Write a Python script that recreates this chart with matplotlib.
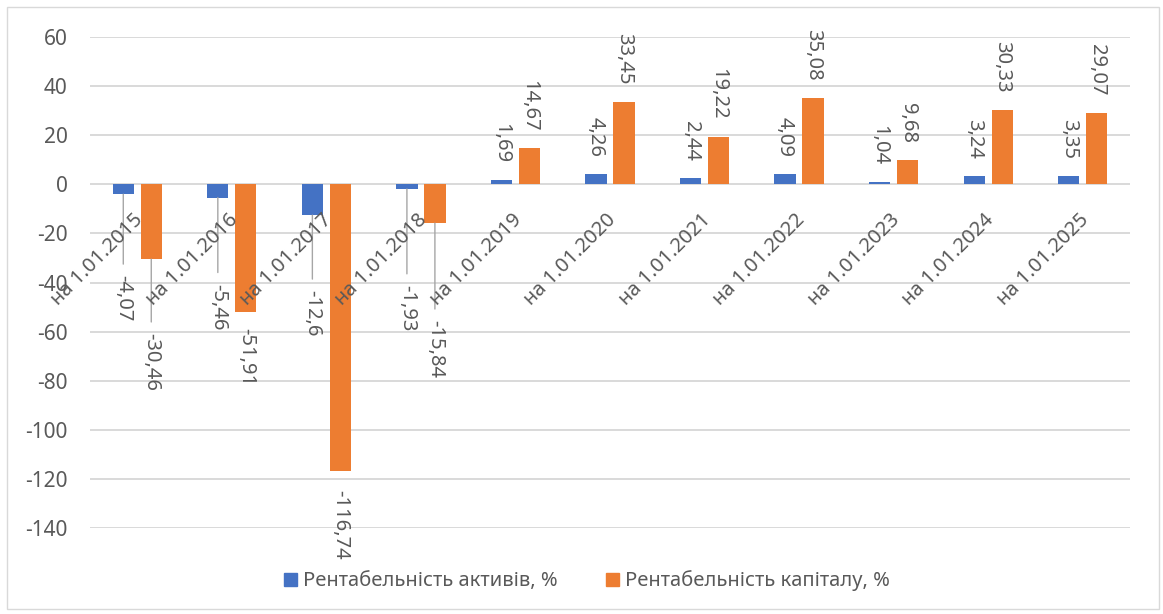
import matplotlib.pyplot as plt
from matplotlib.patches import Rectangle, Patch

plt.rcParams['font.family'] = ['Noto Sans', 'DejaVu Sans']
plt.rcParams['axes.unicode_minus'] = False

dates = ["на 1.01.2015", "на 1.01.2016", "на 1.01.2017", "на 1.01.2018",
         "на 1.01.2019", "на 1.01.2020", "на 1.01.2021", "на 1.01.2022",
         "на 1.01.2023", "на 1.01.2024", "на 1.01.2025"]
roa = [-4.07, -5.46, -12.6, -1.93, 1.69, 4.26, 2.44, 4.09, 1.04, 3.24, 3.35]
roe = [-30.46, -51.91, -116.74, -15.84, 14.67, 33.45, 19.22, 35.08, 9.68, 30.33, 29.07]

# distance (px) between bar end and its value label; long ones get a leader line
roa_gap = [81, 86, 75, 96, 17, 17, 17, 17, 17, 17, 17]
roe_gap = [74, 16, 19, 97, 17, 17, 17, 17, 17, 17, 17]

BLUE = "#4472C4"
ORANGE = "#ED7D31"
TXT = "#595959"
GRID = "#d9d9d9"
PX = 0.72  # points per pixel at dpi 100
FS = 14.5

W, H = 1163, 614
fig = plt.figure(figsize=(W / 100, H / 100), dpi=100)
ax = fig.add_axes([90 / W, 1 - 528.4 / H, 1040 / W, 491.7 / H])

fig.patches.append(Rectangle((7 / W, 5 / H), 1152 / W, 602 / H, transform=fig.transFigure,
                             fill=False, edgecolor=GRID, linewidth=1.0))

x = list(range(len(dates)))
bw = 0.225
off = 0.148
ax.bar([i - off for i in x], roa, width=bw, color=BLUE, zorder=3)
ax.bar([i + off for i in x], roe, width=bw, color=ORANGE, zorder=3)

ax.set_xlim(-0.5, len(dates) - 0.5)
ax.set_ylim(-140, 60)
ax.set_yticks(range(-140, 61, 20))
ax.set_xticks([])
ax.yaxis.grid(True, color=GRID, linewidth=1.4)
ax.set_axisbelow(True)
for s in ax.spines.values():
    s.set_visible(False)
ax.tick_params(axis='y', length=0, pad=16, labelsize=15, labelcolor=TXT)


def fmt(v):
    return f"{v:g}".replace(".", ",")


def put_labels(xs, vals, gaps):
    for xi, v, g in zip(xs, vals, gaps):
        if v >= 0:
            ax.annotate(fmt(v), xy=(xi, v), xytext=(0, g * PX), textcoords='offset points',
                        rotation=-90, ha='center', va='bottom', fontsize=FS, color=TXT)
        else:
            arrow = None
            if g > 30:
                arrow = dict(arrowstyle='-', color='#a6a6a6', lw=1.0, shrinkA=6, shrinkB=0)
            ax.annotate(fmt(v), xy=(xi, v), xytext=(0, -g * PX), textcoords='offset points',
                        rotation=-90, ha='center', va='top', fontsize=FS, color=TXT,
                        arrowprops=arrow)


put_labels([i - off for i in x], roa, roa_gap)
put_labels([i + off for i in x], roe, roe_gap)

# category names sit just under the zero line, slanted
for i, d in enumerate(dates):
    ax.annotate(d, xy=(i, 0), xytext=(-4 * PX, -26 * PX), textcoords='offset points',
                rotation=45, rotation_mode='anchor', ha='right', va='top',
                fontsize=FS, color=TXT, zorder=4)

handles = [Patch(color=BLUE, label="Рентабельність активів, %"),
           Patch(color=ORANGE, label="Рентабельність капіталу, %")]
fig.legend(handles=handles, loc='center', bbox_to_anchor=(587 / W, 1 - 581 / H),
           ncol=2, frameon=False, fontsize=FS, labelcolor=TXT,
           handlelength=0.65, handleheight=0.65, handletextpad=0.3, columnspacing=2.4)

fig.savefig("out.png", dpi=100)
